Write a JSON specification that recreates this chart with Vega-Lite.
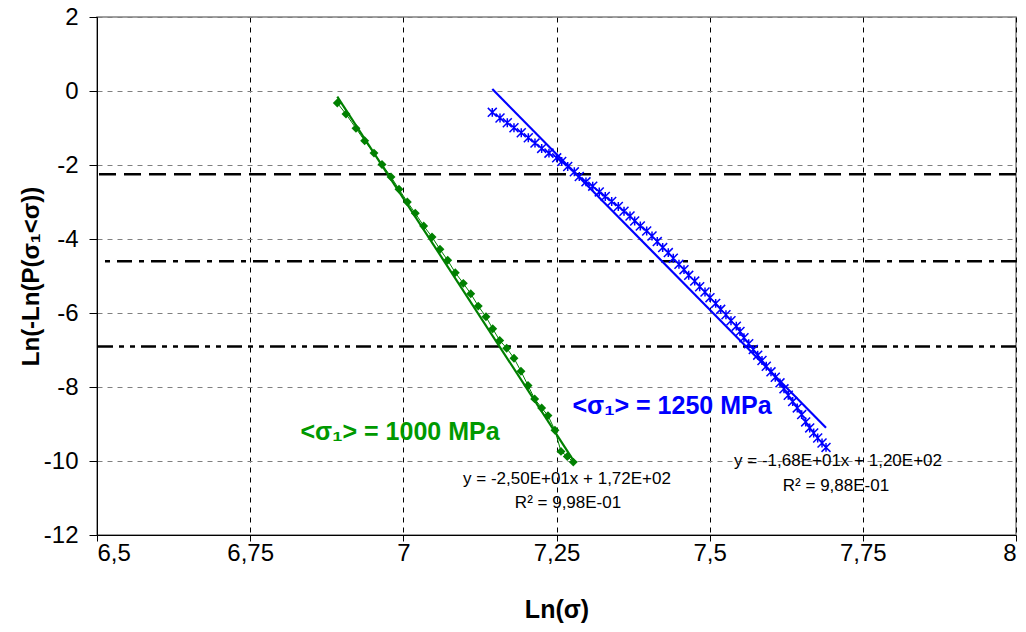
{
  "$schema": "https://vega.github.io/schema/vega-lite/v6.json",
  "width": 919,
  "height": 518,
  "autosize": {"type": "none"},
  "padding": {"left": 97, "top": 17, "right": 10, "bottom": 97},
  "background": "white",
  "config": {
    "font": "Liberation Sans",
    "view": {"stroke": "#808080", "strokeWidth": 1.5}
  },
  "datasets": {
    "green": [
      {"lnS": 6.8922, "lnP": -0.325}, {"lnS": 6.9064, "lnP": -0.623}, {"lnS": 6.9227, "lnP": -1.010},
      {"lnS": 6.9369, "lnP": -1.346}, {"lnS": 6.9521, "lnP": -1.679}, {"lnS": 6.9652, "lnP": -1.985},
      {"lnS": 6.9799, "lnP": -2.321}, {"lnS": 6.9929, "lnP": -2.654}, {"lnS": 7.0065, "lnP": -2.998},
      {"lnS": 7.0195, "lnP": -3.304}, {"lnS": 7.0332, "lnP": -3.647}, {"lnS": 7.0468, "lnP": -3.945},
      {"lnS": 7.0598, "lnP": -4.278}, {"lnS": 7.0724, "lnP": -4.576}, {"lnS": 7.0848, "lnP": -4.909},
      {"lnS": 7.0979, "lnP": -5.199}, {"lnS": 7.1100, "lnP": -5.478}, {"lnS": 7.1223, "lnP": -5.814},
      {"lnS": 7.1349, "lnP": -6.101}, {"lnS": 7.1459, "lnP": -6.426}, {"lnS": 7.1573, "lnP": -6.742},
      {"lnS": 7.1687, "lnP": -6.951}, {"lnS": 7.1806, "lnP": -7.222}, {"lnS": 7.1920, "lnP": -7.574},
      {"lnS": 7.2035, "lnP": -7.961}, {"lnS": 7.2144, "lnP": -8.321}, {"lnS": 7.2258, "lnP": -8.565},
      {"lnS": 7.2361, "lnP": -8.773}, {"lnS": 7.2475, "lnP": -9.171}, {"lnS": 7.2573, "lnP": -9.740},
      {"lnS": 7.2676, "lnP": -9.878}, {"lnS": 7.2774, "lnP": -10.030}
    ],
    "greenFit": [
      {"lnS": 6.8922, "lnP": -0.15}, {"lnS": 7.2802, "lnP": -10.05}
    ],
    "blue": [
      {"lnS": 7.1452, "lnP": -0.577}, {"lnS": 7.1578, "lnP": -0.731}, {"lnS": 7.1697, "lnP": -0.858},
      {"lnS": 7.1806, "lnP": -0.994}, {"lnS": 7.1925, "lnP": -1.129}, {"lnS": 7.2040, "lnP": -1.265},
      {"lnS": 7.2149, "lnP": -1.408}, {"lnS": 7.2258, "lnP": -1.552}, {"lnS": 7.2377, "lnP": -1.679},
      {"lnS": 7.2503, "lnP": -1.806}, {"lnS": 7.2585, "lnP": -1.904}, {"lnS": 7.2683, "lnP": -2.039},
      {"lnS": 7.2791, "lnP": -2.185}, {"lnS": 7.2872, "lnP": -2.310}, {"lnS": 7.2981, "lnP": -2.456},
      {"lnS": 7.3091, "lnP": -2.572}, {"lnS": 7.3198, "lnP": -2.727}, {"lnS": 7.3296, "lnP": -2.851},
      {"lnS": 7.3401, "lnP": -2.987}, {"lnS": 7.3509, "lnP": -3.122}, {"lnS": 7.3602, "lnP": -3.249},
      {"lnS": 7.3700, "lnP": -3.377}, {"lnS": 7.3776, "lnP": -3.512}, {"lnS": 7.3868, "lnP": -3.647},
      {"lnS": 7.3972, "lnP": -3.783}, {"lnS": 7.4059, "lnP": -3.918}, {"lnS": 7.4145, "lnP": -4.070},
      {"lnS": 7.4233, "lnP": -4.232}, {"lnS": 7.4325, "lnP": -4.368}, {"lnS": 7.4406, "lnP": -4.522},
      {"lnS": 7.4499, "lnP": -4.685}, {"lnS": 7.4581, "lnP": -4.828}, {"lnS": 7.4658, "lnP": -4.982},
      {"lnS": 7.4756, "lnP": -5.137}, {"lnS": 7.4837, "lnP": -5.289}, {"lnS": 7.4924, "lnP": -5.433},
      {"lnS": 7.5005, "lnP": -5.585}, {"lnS": 7.5098, "lnP": -5.740}, {"lnS": 7.5180, "lnP": -5.902},
      {"lnS": 7.5266, "lnP": -6.046}, {"lnS": 7.5348, "lnP": -6.208}, {"lnS": 7.5435, "lnP": -6.355},
      {"lnS": 7.5495, "lnP": -6.499}, {"lnS": 7.5560, "lnP": -6.669}, {"lnS": 7.5637, "lnP": -6.832},
      {"lnS": 7.5712, "lnP": -6.986}, {"lnS": 7.5784, "lnP": -7.140}, {"lnS": 7.5854, "lnP": -7.284},
      {"lnS": 7.5924, "lnP": -7.438}, {"lnS": 7.6001, "lnP": -7.590}, {"lnS": 7.6071, "lnP": -7.736},
      {"lnS": 7.6148, "lnP": -7.888}, {"lnS": 7.6213, "lnP": -8.050}, {"lnS": 7.6283, "lnP": -8.224},
      {"lnS": 7.6355, "lnP": -8.394}, {"lnS": 7.6430, "lnP": -8.565}, {"lnS": 7.6502, "lnP": -8.746},
      {"lnS": 7.6567, "lnP": -8.944}, {"lnS": 7.6633, "lnP": -9.106}, {"lnS": 7.6698, "lnP": -9.242},
      {"lnS": 7.6763, "lnP": -9.377}, {"lnS": 7.6834, "lnP": -9.513}, {"lnS": 7.6899, "lnP": -9.632}
    ],
    "blueFit": [
      {"lnS": 7.1452, "lnP": 0.054}, {"lnS": 7.6899, "lnP": -9.10}
    ],
    "levels": [
      {"level": "P = 0.9", "lnP": -2.250},
      {"level": "P = 0.99", "lnP": -4.600},
      {"level": "P = 0.999", "lnP": -6.907}
    ],
    "notes": [
      {"note": "green", "lnS": 6.9946, "lnP": -9.21, "label": "<σ₁> = 1000 MPa"},
      {"note": "blue", "lnS": 7.4385, "lnP": -8.50, "label": "<σ₁> = 1250 MPa"},
      {"note": "eq", "lnS": 7.2671, "lnP": -10.48, "label": "y = -2,50E+01x + 1,72E+02"},
      {"note": "eq", "lnS": 7.2688, "lnP": -11.13, "label": "R² = 9,98E-01"},
      {"note": "eq", "lnS": 7.7095, "lnP": -9.99, "label": "y = -1,68E+01x + 1,20E+02"},
      {"note": "eq", "lnS": 7.7062, "lnP": -10.67, "label": "R² = 9,88E-01"}
    ]
  },
  "layer": [
    {
      "data": {"name": "levels"},
      "transform": [{"filter": "datum.level == 'P = 0.9'"}],
      "mark": {"type": "rule", "color": "black", "strokeWidth": 2.5, "strokeDash": [17, 8]},
      "encoding": {
        "y": {
          "field": "lnP", "type": "quantitative",
          "scale": {"domain": [-12, 2], "nice": false, "zero": false},
          "axis": {
            "values": [-12, -10, -8, -6, -4, -2, 0, 2],
            "title": "Ln(-Ln(P(σ₁<σ))",
            "grid": true,
            "gridColor": "#808080",
            "gridDash": [5, 5],
            "domainColor": "black",
            "tickColor": "black",
            "labelColor": "black",
            "titleColor": "black",
            "labelFont": "Liberation Sans",
            "titleFont": "Liberation Sans",
            "labelFontSize": 24,
            "titleFontSize": 24,
            "titleFontWeight": "bold",
            "tickSize": 8,
            "labelPadding": 11,
            "titlePadding": 0,
            "labelExpr": "replace(toString(datum.value), '.', ',')"
          }
        }
      }
    },
    {
      "data": {"name": "levels"},
      "transform": [{"filter": "datum.level == 'P = 0.99'"}],
      "mark": {"type": "rule", "color": "black", "strokeWidth": 2.5, "strokeDash": [15, 7, 5, 7]},
      "encoding": {"y": {"field": "lnP", "type": "quantitative"}}
    },
    {
      "data": {"name": "levels"},
      "transform": [{"filter": "datum.level == 'P = 0.999'"}],
      "mark": {"type": "rule", "color": "black", "strokeWidth": 2.5, "strokeDash": [15, 6, 5, 6, 5, 6]},
      "encoding": {"y": {"field": "lnP", "type": "quantitative"}}
    },
    {
      "data": {"name": "greenFit"},
      "mark": {"type": "line", "color": "#008000", "strokeWidth": 2.2},
      "encoding": {
        "x": {
          "field": "lnS", "type": "quantitative",
          "scale": {"domain": [6.5, 8], "nice": false, "zero": false},
          "axis": {
            "values": [6.5, 6.75, 7, 7.25, 7.5, 7.75, 8],
            "title": "Ln(σ)",
            "grid": true,
            "gridColor": "black",
            "gridDash": [5, 5],
            "domainColor": "black",
            "tickColor": "black",
            "labelColor": "black",
            "titleColor": "black",
            "labelFont": "Liberation Sans",
            "titleFont": "Liberation Sans",
            "labelFontSize": 24,
            "titleFontSize": 25,
            "titleFontWeight": "bold",
            "tickSize": 6,
            "labelPadding": 0,
            "titlePadding": 32,
            "labelExpr": "replace(toString(datum.value), '.', ',')"
          }
        },
        "y": {"field": "lnP", "type": "quantitative"}
      }
    },
    {
      "data": {"name": "green"},
      "mark": {"type": "line", "color": "#008000", "strokeWidth": 1},
      "encoding": {
        "x": {"field": "lnS", "type": "quantitative"},
        "y": {"field": "lnP", "type": "quantitative"}
      }
    },
    {
      "data": {"name": "green"},
      "mark": {"type": "point", "shape": "diamond", "filled": true, "color": "#008000", "size": 80, "opacity": 1},
      "encoding": {
        "x": {"field": "lnS", "type": "quantitative"},
        "y": {"field": "lnP", "type": "quantitative"}
      }
    },
    {
      "data": {"name": "blueFit"},
      "mark": {"type": "line", "color": "#0000FF", "strokeWidth": 2.2},
      "encoding": {
        "x": {"field": "lnS", "type": "quantitative"},
        "y": {"field": "lnP", "type": "quantitative"}
      }
    },
    {
      "data": {"name": "blue"},
      "mark": {"type": "line", "color": "#0000FF", "strokeWidth": 1},
      "encoding": {
        "x": {"field": "lnS", "type": "quantitative"},
        "y": {"field": "lnP", "type": "quantitative"}
      }
    },
    {
      "data": {"name": "blue"},
      "mark": {"type": "point", "shape": "M-1,-1L1,1M-1,1L1,-1M0,-1L0,1", "filled": false, "color": "#0000FF", "size": 80, "strokeWidth": 1.5, "opacity": 1},
      "encoding": {
        "x": {"field": "lnS", "type": "quantitative"},
        "y": {"field": "lnP", "type": "quantitative"}
      }
    },
    {
      "data": {"name": "notes"},
      "transform": [{"filter": "datum.note == 'green'"}],
      "mark": {"type": "text", "font": "Liberation Sans", "fontSize": 25, "fontWeight": "bold", "color": "#009900", "align": "center", "baseline": "middle"},
      "encoding": {
        "x": {"field": "lnS", "type": "quantitative"},
        "y": {"field": "lnP", "type": "quantitative"},
        "text": {"field": "label"}
      }
    },
    {
      "data": {"name": "notes"},
      "transform": [{"filter": "datum.note == 'blue'"}],
      "mark": {"type": "text", "font": "Liberation Sans", "fontSize": 25, "fontWeight": "bold", "color": "#0000FF", "align": "center", "baseline": "middle"},
      "encoding": {
        "x": {"field": "lnS", "type": "quantitative"},
        "y": {"field": "lnP", "type": "quantitative"},
        "text": {"field": "label"}
      }
    },
    {
      "data": {"name": "notes"},
      "transform": [{"filter": "datum.note == 'eq'"}],
      "mark": {"type": "text", "font": "Liberation Sans", "fontSize": 17, "color": "black", "align": "center", "baseline": "middle"},
      "encoding": {
        "x": {"field": "lnS", "type": "quantitative"},
        "y": {"field": "lnP", "type": "quantitative"},
        "text": {"field": "label"}
      }
    }
  ]
}
